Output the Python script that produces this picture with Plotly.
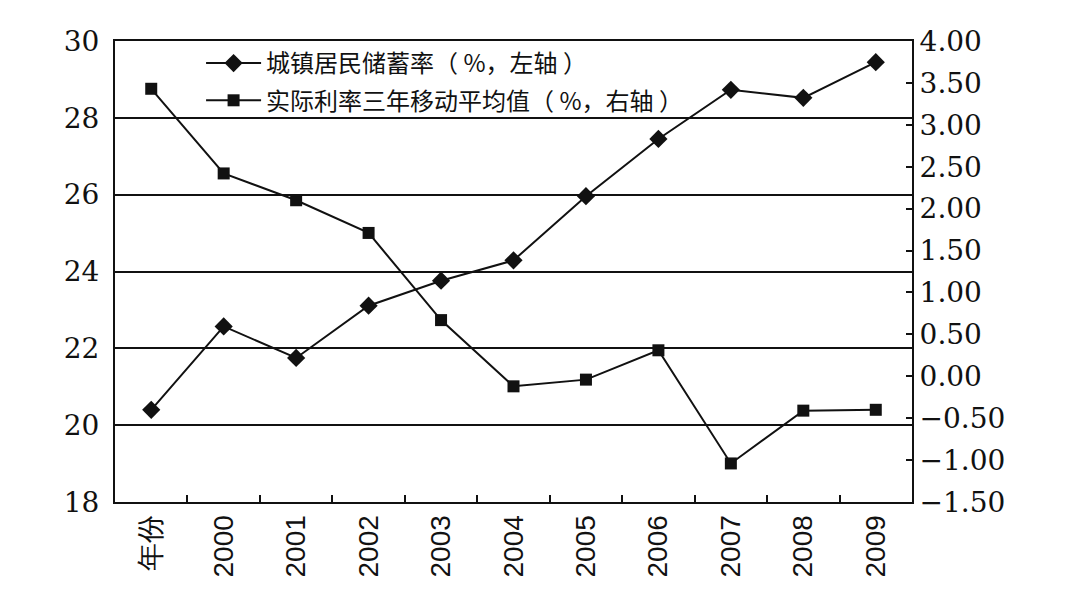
import plotly.graph_objects as go

categories = ["年份", "2000", "2001", "2002", "2003", "2004", "2005", "2006", "2007", "2008", "2009"]
savings_rate = [20.4, 22.57, 21.75, 23.11, 23.76, 24.29, 25.96, 27.45, 28.73, 28.52, 29.45]
real_rate_ma3 = [3.43, 2.42, 2.10, 1.71, 0.67, -0.12, -0.04, 0.31, -1.04, -0.41, -0.40]
name1 = "城镇居民储蓄率（ %，左轴 ）"
name2 = "实际利率三年移动平均值（ %，右轴 ）"
left_ticks = [18, 20, 22, 24, 26, 28, 30]
right_ticks = [-1.5, -1.0, -0.5, 0.0, 0.5, 1.0, 1.5, 2.0, 2.5, 3.0, 3.5, 4.0]

INK = "#111111"
serif = "DejaVu Serif"
sans = "Liberation Sans"
cjk = "Noto Sans CJK SC"

fig = go.Figure()
fig.add_trace(go.Scatter(
    x=categories, y=savings_rate, name=name1, mode="lines+markers",
    line=dict(color=INK, width=2),
    marker=dict(symbol="diamond", size=14, color=INK),
    legendgroup="a", yaxis="y",
))
fig.add_trace(go.Scatter(
    x=categories, y=real_rate_ma3, name=name2, mode="lines+markers",
    line=dict(color=INK, width=2),
    marker=dict(symbol="square", size=12, color=INK),
    legendgroup="b", yaxis="y2",
))

fig.update_layout(
    width=1070, height=616,
    margin=dict(l=107, r=166, t=33, b=122),
    paper_bgcolor="white", plot_bgcolor="white",
    showlegend=True,
    legend=dict(
        x=0.108, y=1.0, xanchor="left", yanchor="top",
        bgcolor="rgba(0,0,0,0)", font=dict(family=cjk, size=24, color=INK),
        traceorder="grouped", tracegroupgap=3, itemwidth=55,
    ),
    xaxis=dict(
        type="category", tickangle=-90, tickson="boundaries",
        ticks="inside", ticklen=7, tickwidth=2, tickcolor=INK,
        showline=True, linewidth=2, linecolor=INK, mirror=True,
        showgrid=False, tickfont=dict(family=sans, size=28, color=INK),
        range=[-0.5, len(categories) - 0.5],
    ),
    yaxis=dict(
        range=[18, 30], tickvals=left_ticks, ticks="",
        showline=True, linewidth=2, linecolor=INK,
        showgrid=True, gridcolor=INK, gridwidth=2, zeroline=False,
        tickfont=dict(family=serif, size=28, color=INK),
        ticklabelstandoff=8,
    ),
    yaxis2=dict(
        range=[-1.5, 4.0], tickvals=right_ticks, tickformat=".2f",
        overlaying="y", side="right", ticks="inside", ticklen=6, tickwidth=2, tickcolor=INK,
        showline=True, linewidth=2, linecolor=INK,
        showgrid=False, zeroline=False,
        tickfont=dict(family=serif, size=28, color=INK),
    ),
)

fig.write_html("out.html")
